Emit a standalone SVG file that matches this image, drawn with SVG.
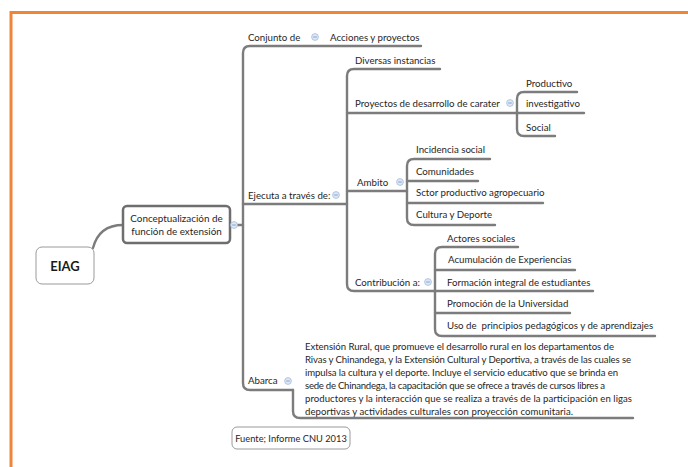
<svg xmlns="http://www.w3.org/2000/svg" width="688" height="467" viewBox="0 0 688 467">
<style>
 .t{font-family:Lato,"Liberation Sans",sans-serif;font-size:9.7px;fill:#262626;white-space:pre}
 .p{font-family:Lato,"Liberation Sans",sans-serif;font-size:9.6px;fill:#262626}
 .ln{fill:none;stroke:#7c7c7c;stroke-width:2.4;stroke-linecap:round;stroke-linejoin:round}
 .ic{fill:#dde7f5;stroke:#a7bcdc;stroke-width:0.8}
 .im{stroke:#7d9bcb;stroke-width:0.9}
</style>
<defs>
 <g id="icon"><circle r="3.4" class="ic"/><line x1="-1.8" x2="1.8" y1="0" y2="0" class="im"/></g>
</defs>
<rect width="688" height="467" fill="#ffffff"/>
<path d="M11 467 V12.5 H688" fill="none" stroke="#EF8538" stroke-width="3"/>

<g id="connectors">
 <path class="ln" d="M93 248 Q99 225 123 225"/>
 <path class="ln" d="M230 225 H243"/>
 <path class="ln" d="M421 46 H250 Q243 46 243 53 V383 Q243 390 250 390 H293"/>
 <path class="ln" d="M243 204 H347"/>
 <path class="ln" d="M293 390 V411 Q293 418 300 418 H633"/>
 <path class="ln" d="M440 69 H354 Q347 69 347 76 V284 Q347 291 354 291 H435"/>
 <path class="ln" d="M347 113 H517"/>
 <path class="ln" d="M347 191 H407"/>
 <path class="ln" d="M577 92 H524 Q517 92 517 99 V129 Q517 136 524 136 H555"/>
 <path class="ln" d="M517 113 H584"/>
 <path class="ln" d="M490 159 H414 Q407 159 407 166 V218 Q407 225 414 225 H495"/>
 <path class="ln" d="M407 181 H478"/>
 <path class="ln" d="M407 203 H543"/>
 <path class="ln" d="M518 247 H442 Q435 247 435 254 V329 Q435 336 442 336 H655"/>
 <path class="ln" d="M435 270 H575"/>
 <path class="ln" d="M435 291 H593"/>
 <path class="ln" d="M435 313 H570"/>
</g>

<g id="eiag">
 <rect x="36" y="247" width="58" height="37" rx="6" fill="#fff" stroke="#9a9a9a" stroke-width="1"/>
 <text x="65" y="270.5" text-anchor="middle" style="font-family:Lato,'Liberation Sans',sans-serif;font-size:13px;font-weight:bold;fill:#1a1a1a">EIAG</text>
</g>

<g id="concepto">
 <rect x="123" y="206" width="107" height="37" rx="4" fill="#fff" stroke="#6e6e6e" stroke-width="2.5"/>
 <text x="176.5" y="221.5" text-anchor="middle" class="t" style="font-size:9.9px">Conceptualización de</text>
 <text x="176.5" y="235" text-anchor="middle" class="t" style="font-size:9.9px">función de extensión</text>
 <use href="#icon" x="234" y="225"/>
</g>

<g id="conjunto">
 <text x="248" y="40.5" class="t">Conjunto de</text>
 <use href="#icon" x="315" y="37"/>
</g>
<g id="acciones"><text x="330" y="40.5" class="t">Acciones y proyectos</text></g>

<g id="ejecuta">
 <text x="248" y="198.5" class="t">Ejecuta a través de:</text>
 <use href="#icon" x="336" y="195"/>
</g>

<g id="diversas"><text x="355" y="63.5" class="t">Diversas instancias</text></g>
<g id="proyectos">
 <text x="355" y="106.5" class="t">Proyectos de desarrollo de carater</text>
 <use href="#icon" x="510" y="103"/>
</g>
<g id="productivo"><text x="526" y="86.5" class="t">Productivo</text></g>
<g id="investigativo"><text x="526" y="107" class="t">investigativo</text></g>
<g id="social"><text x="526" y="130.5" class="t">Social</text></g>

<g id="ambito">
 <text x="357" y="185.5" class="t">Ambito</text>
 <use href="#icon" x="400" y="182"/>
</g>
<g id="incidencia"><text x="416" y="152.5" class="t">Incidencia social</text></g>
<g id="comunidades"><text x="416" y="174.5" class="t">Comunidades</text></g>
<g id="sctor"><text x="416" y="196" class="t">Sctor productivo agropecuario</text></g>
<g id="cultura"><text x="416" y="218" class="t">Cultura y Deporte</text></g>

<g id="contribucion">
 <text x="355" y="285.5" class="t">Contribución a:</text>
 <use href="#icon" x="428" y="282"/>
</g>
<g id="actores"><text x="447" y="241.5" class="t">Actores sociales</text></g>
<g id="acumulacion"><text x="448" y="262.5" class="t">Acumulación de Experiencias</text></g>
<g id="formacion"><text x="447" y="285.5" class="t">Formación integral de estudiantes</text></g>
<g id="promocion"><text x="447" y="306.5" class="t">Promoción de la Universidad</text></g>
<g id="uso"><text x="447" y="328.5" class="t">Uso de  principios pedagógicos y de aprendizajes</text></g>

<g id="abarca">
 <text x="248" y="384" class="t">Abarca</text>
 <use href="#icon" x="288" y="381"/>
</g>
<g id="parrafo">
 <text x="305" y="350" class="p" textLength="309">Extensión Rural, que promueve el desarrollo rural en los departamentos de</text>
 <text x="305" y="363" class="p" textLength="326">Rivas y Chinandega, y la Extensión Cultural y Deportiva, a través de las cuales se</text>
 <text x="305" y="376" class="p" textLength="313">impulsa la cultura y el deporte. Incluye el servicio educativo que se brinda en</text>
 <text x="305" y="389" class="p" textLength="300">sede de Chinandega, la capacitación que se ofrece a través de cursos libres a</text>
 <text x="305" y="402" class="p" textLength="327">productores y la interacción que se realiza a través de la participación en ligas</text>
 <text x="305" y="415" class="p" textLength="268">deportivas y actividades culturales con proyección comunitaria.</text>
</g>

<g id="fuente">
 <rect x="232" y="427" width="118" height="22" rx="5" fill="#fff" stroke="#9a9a9a" stroke-width="1"/>
 <text x="291" y="441.5" text-anchor="middle" class="t" style="font-size:9.3px">Fuente; Informe CNU 2013</text>
</g>
</svg>
